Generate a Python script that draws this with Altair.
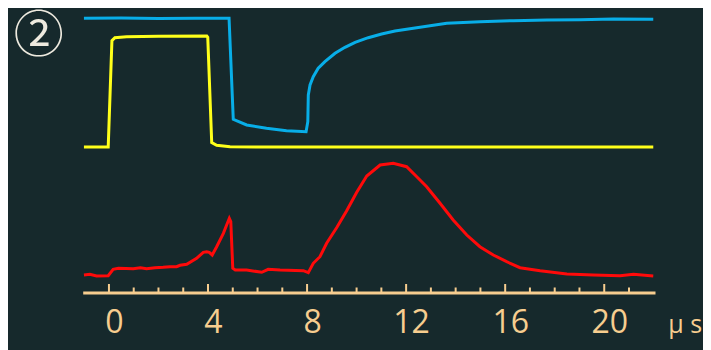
import altair as alt
import pandas as pd

BG = "#16292c"
TAN = "#f7cd8f"

# time (µs) and level (arbitrary units)
blue_t = [-1.01, 0.5, 2.0, 3.5, 4.85, 5.02, 5.56, 6.36, 7.17, 7.96, 8.03, 8.05, 8.12, 8.25, 8.45,
          8.72, 9.13, 9.53, 9.94, 10.47, 11.01, 11.55, 12.29, 13.64, 14.98, 16.33, 17.68, 19.02,
          20.37, 21.98]
blue_v = [274.2, 274.4, 274.0, 274.3, 274.3, 173.2, 167.5, 164.2, 161.8, 160.8, 170.8, 197.5, 207.5,
          215.8, 224.2, 230.8, 239.2, 245.2, 250.2, 254.8, 258.5, 261.5, 264.2, 269.2, 270.8, 271.8,
          272.5, 272.8, 273.5, 273.2]

yellow_t = [-1.01, -0.03, 0.12, 0.24, 0.71, 2.0, 3.95, 3.99, 4.15, 4.35, 4.89, 6.0, 10.0, 16.0, 21.98]
yellow_v = [145.5, 145.5, 251.8, 254.8, 255.8, 256.3, 256.5, 255.2, 149.8, 147.2, 145.8, 145.5, 145.5,
            145.6, 145.5]

red_t = [-1.01, -0.77, -0.5, -0.03, 0.17, 0.38, 0.98, 1.27, 1.52, 1.86, 2.19, 2.46, 2.73, 2.87, 3.14,
         3.54, 3.81, 3.95, 4.05, 4.17, 4.35, 4.62, 4.86, 4.92, 5.0, 5.1, 5.56, 6.17, 6.43, 6.91, 7.85,
         8.05, 8.25, 8.52, 8.79, 9.2, 9.6, 10.0, 10.41, 10.95, 11.48, 12.02, 12.43, 12.83, 13.37,
         13.9, 14.45, 14.98, 15.52, 16.06, 16.6, 17.41, 18.49, 19.56, 20.64, 21.18, 21.98]
red_v = [17.5, 18.2, 16.5, 16.8, 23.2, 24.2, 23.8, 24.8, 23.8, 24.8, 25.2, 25.8, 25.8, 27.2, 28.2,
         34.2, 40.2, 40.8, 40.2, 37.5, 45.8, 59.2, 74.2, 70.8, 24.2, 22.5, 22.5, 20.2, 23.2, 22.5,
         21.8, 19.8, 29.2, 35.8, 49.2, 65.0, 81.7, 100.0, 116.5, 127.5, 129.2, 125.8, 115.8, 105.8,
         89.2, 72.5, 57.5, 45.8, 37.5, 30.8, 24.8, 21.8, 18.5, 17.5, 16.8, 18.2, 16.5]

tick_labels = [0, 4, 8, 12, 16, 20]
minor_ticks = [1, 2, 3, 5, 6, 7, 9, 10, 11, 13, 14, 15, 17, 18, 19, 21]

series = ["red", "yellow", "blue"]
colors = ["#ff0a0a", "#ffff1a", "#08aee8"]

rows = []
for name, ts, vs in [("blue", blue_t, blue_v), ("yellow", yellow_t, yellow_v), ("red", red_t, red_v)]:
    for i, (t, v) in enumerate(zip(ts, vs)):
        rows.append({"series": name, "t": t, "v": v, "i": i})
df = pd.DataFrame(rows)

major_df = pd.DataFrame({"t": tick_labels})
minor_df = pd.DataFrame({"t": minor_ticks})
badge_df = pd.DataFrame({"label": ["②"]})

x_enc = alt.X(
    "t:Q",
    scale=alt.Scale(domain=[-1.06, 22.05], nice=False, zero=False),
    axis=alt.Axis(
        values=tick_labels,
        format="d",
        ticks=False,
        grid=False,
        domainColor=TAN,
        domainWidth=3,
        labelColor=TAN,
        labelFont="Open Sans",
        labelFontSize=32,
        labelPadding=15,
        labelOffset=5,
        title="μ s",
        titleColor=TAN,
        titleFont="Open Sans",
        titleFontSize=25,
        titleFontWeight="normal",
        titleAlign="left",
        titleBaseline="alphabetic",
        titleX=585,
        titleY=40,
    ),
)

lines = alt.Chart(df).mark_line(strokeWidth=3, interpolate="linear").encode(
    x=x_enc,
    y=alt.Y("v:Q", scale=alt.Scale(domain=[0, 280.5], nice=False, zero=False), axis=None),
    color=alt.Color("series:N", scale=alt.Scale(domain=series, range=colors), legend=None),
    detail="series:N",
    order="i:Q",
)

major = alt.Chart(major_df).mark_rule(color=TAN, strokeWidth=2).encode(
    x=x_enc, y=alt.value(272), y2=alt.value(280.5)
)
minor = alt.Chart(minor_df).mark_rule(color=TAN, strokeWidth=2).encode(
    x=x_enc, y=alt.value(275.5), y2=alt.value(280.5)
)

badge = alt.Chart(badge_df).mark_text(
    font="Noto Sans CJK SC", fontSize=50, color="#eeeadf", align="center", baseline="middle"
).encode(text="label:N", x=alt.value(-44), y=alt.value(24.5))

chart = alt.layer(major, minor, lines, badge).properties(
    width=572.3,
    height=280.5,
    autosize=alt.AutoSizeParams(type="none"),
    padding={"left": 74.7, "top": 4, "right": 48, "bottom": 57.5},
).configure(background=BG).configure_view(stroke=None)

chart.save("out.html", embed_options={"renderer": "svg", "actions": False})
